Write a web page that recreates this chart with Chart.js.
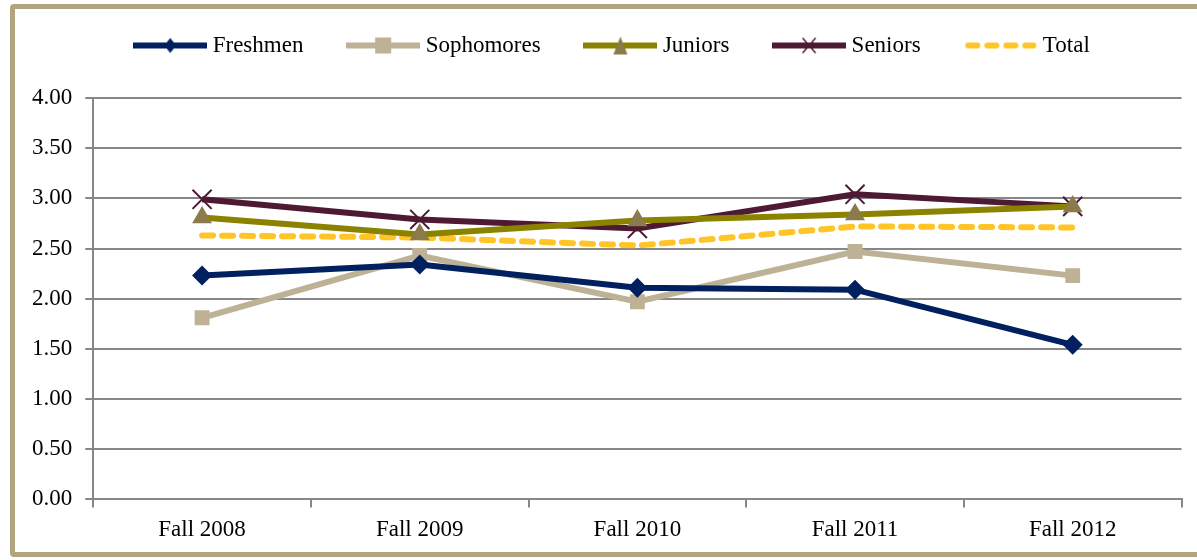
<!DOCTYPE html>
<html>
<head>
<meta charset="utf-8">
<script src="https://cdn.jsdelivr.net/npm/chart.js@4.4.0/dist/chart.umd.min.js"></script>
<style>
  body { margin: 0; background: #fff; }
  #wrap { position: relative; width: 1197px; height: 560px; overflow: hidden; }
  #frame { position: absolute; left: 10px; top: 4px; width: 1300px; height: 553px; border: 5px solid #b1a57f; border-radius: 4px; box-sizing: border-box; }
  canvas { position: absolute; left: 0; top: 0; }
</style>
</head>
<body>
<div id="wrap">
  <div id="frame"></div>
  <canvas id="chart" width="1197" height="560"></canvas>
</div>
<script>
// dados
const semestres = ['Fall 2008', 'Fall 2009', 'Fall 2010', 'Fall 2011', 'Fall 2012'];
const freshmen = [2.23, 2.34, 2.11, 2.09, 1.54];
const sophomores = [1.81, 2.43, 1.97, 2.47, 2.23];
const juniors = [2.81, 2.64, 2.78, 2.84, 2.92];
const seniors = [2.99, 2.79, 2.70, 3.04, 2.92];
const total = [2.63, 2.61, 2.53, 2.72, 2.71];
const yTicks = [0, 0.5, 1, 1.5, 2, 2.5, 3, 3.5, 4];

const fonte = '"Liberation Serif", "DejaVu Serif", serif';

// ícone da legenda: linha + marcador
const iconeLegenda = (cor, corMarcador, tipo, tracejado) => {
    const c = document.createElement('canvas');
    c.width = 74; c.height = 24;
    const ctx = c.getContext('2d');
    const cx = 37, cy = 12;
    ctx.strokeStyle = cor;
    ctx.lineWidth = 6;
    if (tracejado) {
        ctx.setLineDash([9, 10]);
        ctx.lineCap = 'round';
        ctx.beginPath(); ctx.moveTo(5, cy); ctx.lineTo(70, cy); ctx.stroke();
        return c;
    }
    ctx.beginPath(); ctx.moveTo(0, cy); ctx.lineTo(74, cy); ctx.stroke();
    ctx.fillStyle = corMarcador;
    ctx.strokeStyle = corMarcador;
    if (tipo === 'diamond') {
        ctx.beginPath(); ctx.moveTo(cx, cy - 7.5); ctx.lineTo(cx + 6, cy); ctx.lineTo(cx, cy + 7.5); ctx.lineTo(cx - 6, cy); ctx.closePath(); ctx.fill();
    } else if (tipo === 'square') {
        ctx.fillRect(cx - 8, cy - 8, 16, 16);
    } else if (tipo === 'triangle') {
        ctx.beginPath(); ctx.moveTo(cx, cy - 9); ctx.lineTo(cx + 7, cy + 9); ctx.lineTo(cx - 7, cy + 9); ctx.closePath(); ctx.fill();
    } else if (tipo === 'cross') {
        ctx.lineWidth = 1.5;
        ctx.beginPath(); ctx.moveTo(cx - 6.5, cy - 7.5); ctx.lineTo(cx + 6.5, cy + 7.5); ctx.moveTo(cx + 6.5, cy - 7.5); ctx.lineTo(cx - 6.5, cy + 7.5); ctx.stroke();
    }
    return c;
};

const series = [
    { label: 'Freshmen', data: freshmen, cor: '#002060', marcador: '#002060', ponto: 'rectRot', raio: 10, icone: 'diamond' },
    { label: 'Sophomores', data: sophomores, cor: '#bdb196', marcador: '#bdb196', ponto: 'rect', raio: 10.5, icone: 'square' },
    { label: 'Juniors', data: juniors, cor: '#8b8300', marcador: '#8a7a4c', ponto: 'triangle', raio: 11.5, icone: 'triangle' },
    { label: 'Seniors', data: seniors, cor: '#4e1a33', marcador: '#4e1a33', ponto: 'crossRot', raio: 13.5, icone: 'cross' },
    { label: 'Total', data: total, cor: '#ffc425', marcador: '#ffc425', ponto: false, raio: 0, icone: 'dash', tracejado: true }
];

const datasets = series.map(s => ({
    label: s.label,
    data: s.data,
    borderColor: s.cor,
    backgroundColor: s.marcador,
    borderWidth: 6,
    borderDash: s.tracejado ? [11, 9] : [],
    borderCapStyle: s.tracejado ? 'round' : 'butt',
    pointStyle: s.ponto,
    pointRadius: s.raio,
    pointBackgroundColor: s.marcador,
    pointBorderColor: s.marcador,
    pointBorderWidth: s.ponto === 'crossRot' ? 2 : 0,
    tension: 0,
    icone: iconeLegenda(s.cor, s.marcador, s.icone, s.tracejado)
}));

// espaço extra abaixo da legenda e pequeno deslocamento para a direita
const legendaAjuste = {
    id: 'legendaAjuste',
    beforeInit(chart) {
        const fitOriginal = chart.legend.fit;
        chart.legend.fit = function () {
            fitOriginal.bind(chart.legend)();
            this.height += 31;
        };
    },
    afterLayout(chart) {
        chart.legend.left += 14;
        chart.legend.right += 14;
    }
};

const ctx = document.getElementById('chart').getContext('2d');
new Chart(ctx, {
    type: 'line',
    data: { labels: semestres, datasets: datasets },
    options: {
        responsive: false,
        animation: false,
        layout: { padding: { left: 19, right: 15, top: 14, bottom: 7 } },
        plugins: {
            tooltip: { enabled: false },
            legend: {
                position: 'top',
                labels: {
                    usePointStyle: true,
                    pointStyleWidth: 62,
                    color: '#000',
                    font: { family: fonte, size: 23 },
                    padding: 20,
                    generateLabels: chart => chart.data.datasets.map((d, i, arr) => ({
                        text: i < arr.length - 1 ? d.label + '\u2002\u2002 ' : d.label,
                        pointStyle: d.icone,
                        datasetIndex: i,
                        fontColor: '#000',
                        lineWidth: 0,
                        hidden: false
                    }))
                }
            }
        },
        scales: {
            x: {
                offset: true,
                grid: { offset: true, drawOnChartArea: false, color: '#878787', lineWidth: 2, tickLength: 8 },
                border: { color: '#878787', width: 2 },
                ticks: { color: '#000', font: { family: fonte, size: 23 }, padding: 9 }
            },
            y: {
                min: 0,
                max: 4,
                afterBuildTicks: axis => { axis.ticks = yTicks.map(v => ({ value: v })); },
                grid: { color: '#878787', lineWidth: 2, tickLength: 8 },
                border: { color: '#878787', width: 2 },
                ticks: { color: '#000', font: { family: fonte, size: 23 }, padding: 13, callback: v => Number(v).toFixed(2) }
            }
        }
    },
    plugins: [legendaAjuste]
});
</script>
</body>
</html>
